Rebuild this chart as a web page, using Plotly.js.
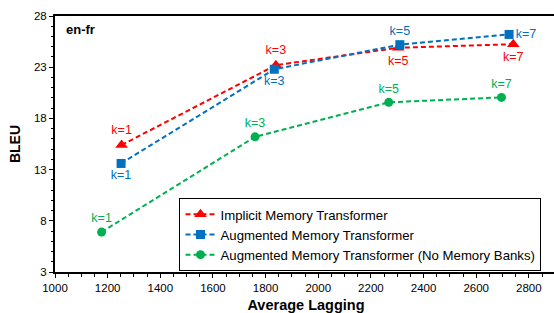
<!DOCTYPE html>
<html><head><meta charset="utf-8">
<script src="https://cdn.plot.ly/plotly-3.0.1.min.js"></script>
<style>html,body{margin:0;padding:0;background:#fff;overflow:hidden}</style>
</head><body><div id="chart" style="width:557px;height:313px"></div>
<script>
const seriesNames = ["Implicit Memory Transformer", "Augmented Memory Transformer", "Augmented Memory Transformer (No Memory Banks)"];
const kLabels = ["k=1", "k=3", "k=5", "k=7"];
const implicitLag = [1253, 1839, 2304, 2741];
const implicitBleu = [15.4, 23.2, 24.9, 25.25];
const augLag = [1251, 1833, 2310, 2725];
const augBleu = [13.6, 22.8, 25.2, 26.2];
const noBankLag = [1177, 1760, 2268, 2696];
const noBankBleu = [6.9, 16.2, 19.57, 20.05];

const red = "#FF0000", blue = "#0070C0", green = "#00B050";
const lblFont = (c) => ({family: "Liberation Sans, Arial, sans-serif", size: 12.5, color: c});
const dashStyle = "5px,3px";

const traces = [
  {x: implicitLag, y: implicitBleu, name: seriesNames[0], mode: "lines+markers+text",
   text: kLabels, textposition: ["top center","top center","bottom center","bottom center"], textfont: lblFont(red),
   line: {color: red, dash: dashStyle, width: 2}, marker: {symbol: "triangle-up", size: 11, color: red}},
  {x: augLag, y: augBleu, name: seriesNames[1], mode: "lines+markers+text",
   text: kLabels, textposition: ["bottom center","bottom center","top center","middle right"], textfont: lblFont(blue),
   line: {color: blue, dash: dashStyle, width: 2}, marker: {symbol: "square", size: 9, color: blue}},
  {x: noBankLag, y: noBankBleu, name: seriesNames[2], mode: "lines+markers+text",
   text: kLabels, textposition: "top center", textfont: lblFont(green),
   line: {color: green, dash: dashStyle, width: 2}, marker: {symbol: "circle", size: 9, color: green}}
];

const layout = {
  width: 557, height: 313,
  margin: {l: 55, r: 0, t: 16, b: 41},
  paper_bgcolor: "#fff", plot_bgcolor: "#fff",
  font: {family: "Liberation Sans, Arial, sans-serif", size: 11.5, color: "#000"},
  showlegend: true,
  legend: {x: 0.248, y: 0.288, xanchor: "left", yanchor: "top", bordercolor: "#000", borderwidth: 1,
           bgcolor: "#fff", font: {size: 13.2}, tracegroupgap: 0, itemwidth: 30},
  xaxis: {range: [1000, 2907], tick0: 1000, dtick: 200, showgrid: false, zeroline: false,
          showline: true, linecolor: "#000", linewidth: 2, mirror: true,
          ticks: "outside", ticklen: 4, tickwidth: 1, tickcolor: "#000",
          minor: {dtick: 50, ticks: "outside", ticklen: 2.5, tickcolor: "#000", showgrid: false},
          title: {text: "<b>Average Lagging</b>", font: {size: 14.5}, standoff: 8}},
  yaxis: {range: [3, 28], tick0: 3, dtick: 5, showgrid: false, zeroline: false,
          showline: true, linecolor: "#000", linewidth: 2, mirror: true,
          ticks: "outside", ticklen: 4, tickwidth: 1, tickcolor: "#000",
          minor: {dtick: 1, ticks: "outside", ticklen: 2.5, tickcolor: "#000", showgrid: false},
          title: {text: "<b>BLEU</b>", font: {size: 14}, standoff: 10}},
  annotations: [{text: "<b>en-fr</b>", xref: "paper", yref: "paper", x: 0.018, y: 0.985,
                 xanchor: "left", yanchor: "top", showarrow: false, font: {size: 13}}]
};

Plotly.newPlot("chart", traces, layout, {displayModeBar: false, staticPlot: true});
</script></body></html>
